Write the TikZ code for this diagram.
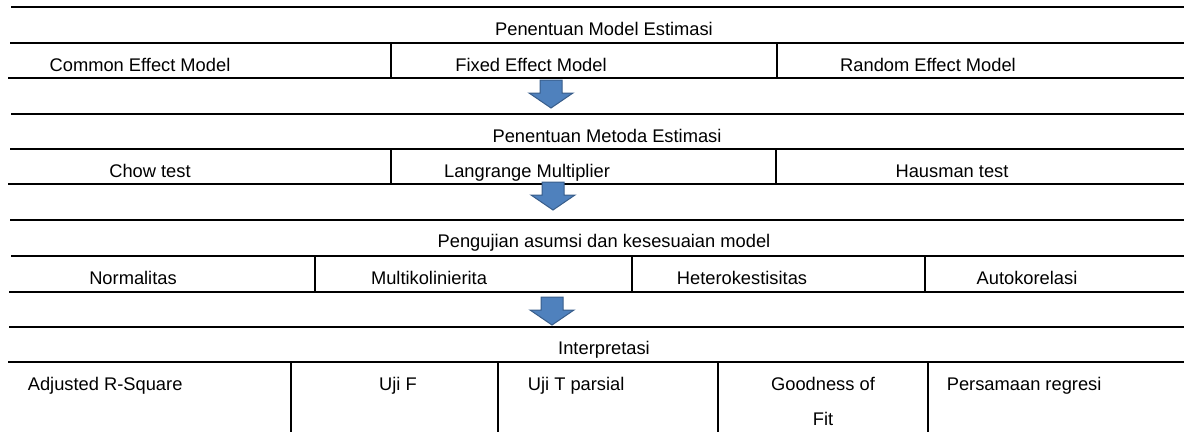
\documentclass[tikz,border=0pt]{standalone}
\usepackage{fontspec}
\setmainfont{Liberation Sans}
\definecolor{arrowblue}{HTML}{4F81BD}
\definecolor{arrowedge}{HTML}{385D8A}
\begin{document}
\begin{tikzpicture}[x=1pt,y=-1pt,line width=1.7pt]
\tikzstyle{every node}+=[inner sep=0pt,font=\fontsize{18.3}{35}\selectfont]
\tikzstyle{cell}=[anchor=base]
\tikzstyle{cellleft}=[anchor=base west]
\tikzset{downarrow/.pic={\draw [draw=arrowedge,fill=arrowblue,line width=1pt] (-11,0) -- (11,0) -- (11,13) -- (22,13) -- (0,28) -- (-22,13) -- (-11,13) -- cycle;}}
\useasboundingbox (0,0) rectangle (1184,432);
\draw [black] (11,7) -- (1184,7);
\draw [black] (10,43) -- (1184,43);
\draw [black] (8,78) -- (1184,78);
\draw [black] (11,114) -- (1184,114);
\draw [black] (10,149) -- (1184,149);
\draw [black] (8,184) -- (1184,184);
\draw [black] (10,220) -- (1184,220);
\draw [black] (11,256) -- (1184,256);
\draw [black] (9,292) -- (1184,292);
\draw [black] (9,327) -- (1184,327);
\draw [black] (8,362) -- (1184,362);
\draw [black] (391,43) -- (391,78);
\draw [black] (777,43) -- (777,78);
\draw [black] (391,149) -- (391,184);
\draw [black] (776,149) -- (776,184);
\draw [black] (315,256) -- (315,292);
\draw [black] (632,256) -- (632,292);
\draw [black] (925,256) -- (925,292);
\draw [black] (291,362) -- (291,432);
\draw [black] (498,362) -- (498,432);
\draw [black] (718,362) -- (718,432);
\draw [black] (928,362) -- (928,432);
\node [cell] (model) at (604,35) {Penentuan Model Estimasi};
\node [cell] (common) at (140,71) {Common Effect Model};
\node [cell] (fixed) at (531,71) {Fixed Effect Model};
\node [cell] (random) at (928,71) {Random Effect Model};
\node [cell] (metoda) at (607,142) {Penentuan Metoda Estimasi};
\node [cell] (chow) at (150,177) {Chow test};
\node [cell] (lm) at (527,177) {Langrange Multiplier};
\node [cell] (hausman) at (952,177) {Hausman test};
\node [cell] (asumsi) at (604,247) {Pengujian asumsi dan kesesuaian model};
\node [cell] (normal) at (133,284) {Normalitas};
\node [cell] (multi) at (429,284) {Multikolinierita};
\node [cell] (hetero) at (742,284) {Heterokestisitas};
\node [cell] (auto) at (1027,284) {Autokorelasi};
\node [cell] (interp) at (604,354) {Interpretasi};
\node [cellleft] (adjr) at (27,390) {Adjusted R-Square};
\node [cell] (ujif) at (398,390) {Uji F};
\node [cellleft] (ujit) at (527,390) {Uji T parsial};
\node [cell,align=center] (gof) at (823,425) {Goodness of\\Fit};
\node [cellleft] (regresi) at (946,390) {Persamaan regresi};
\pic at (551,80) {downarrow};
\pic at (553,182) {downarrow};
\pic at (552,297) {downarrow};
\end{tikzpicture}
\end{document}
